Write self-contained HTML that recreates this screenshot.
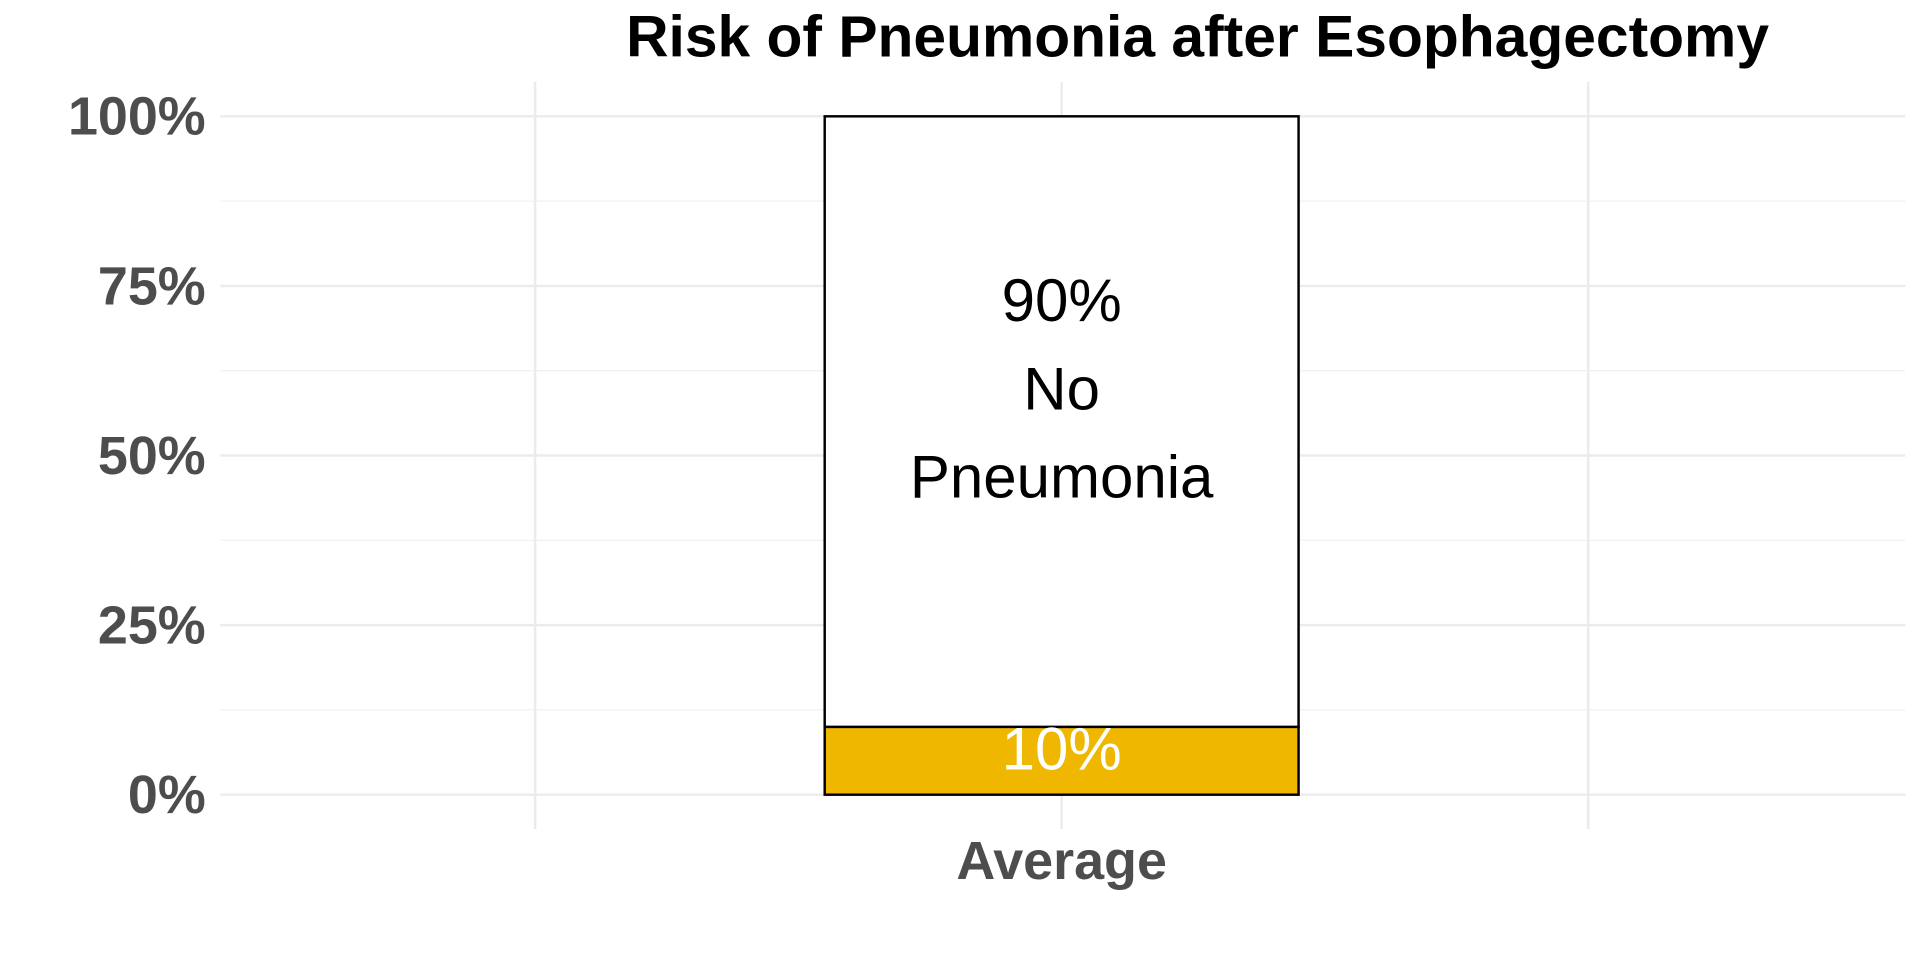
<!DOCTYPE html>
<html><head><meta charset="utf-8"><style>
html,body{margin:0;padding:0;background:#fff;}
svg{display:block;font-family:"Liberation Sans",sans-serif;}
</style></head><body>
<svg id="chart" width="1920" height="960" viewBox="0 0 1568 784" xmlns="http://www.w3.org/2000/svg">
<text x="978" y="46" text-anchor="middle" font-size="48" font-weight="bold" fill="#000">Risk of Pneumonia after Esophagectomy</text>
<g id="grid"></g>
<g id="bars"></g>
<g id="labels"></g>
<g id="yticks"></g>
<text x="867" y="718" text-anchor="middle" font-size="44" font-weight="bold" fill="#4d4d4d">Average</text>
</svg>
<script>
const categories = ["Average"];
const noPneumonia = [90];
const pneumonia = [10];
const yTicks = [0, 25, 50, 75, 100];
const yTickLabels = ["0%", "25%", "50%", "75%", "100%"];

const NS = "http://www.w3.org/2000/svg";
const y = v => 649 - (v / 100) * (649 - 95);
const xCenter = i => 867 + i * 430;
const barHalf = 193.5;
function mk(tag, attrs, parent){ const e=document.createElementNS(NS,tag); for(const k in attrs) e.setAttribute(k,attrs[k]); parent.appendChild(e); return e; }
const grid=document.getElementById('grid'), bars=document.getElementById('bars'), labels=document.getElementById('labels'), yt=document.getElementById('yticks');

for (let v=12.5; v<100; v+=25){
  const l=mk('line',{x1:180,x2:1556,y1:y(v),y2:y(v),stroke:'#f0f0f0','stroke-width':1},grid);
  
  
}
[-1,0,1].forEach(k=>{
  const l=mk('line',{x1:xCenter(k),x2:xCenter(k),y1:67,y2:677,stroke:'#ebebeb','stroke-width':2},grid);
  
  
});
yTicks.forEach((v,i)=>{
  const l=mk('line',{x1:180,x2:1556,y1:y(v),y2:y(v),stroke:'#ebebeb','stroke-width':2},grid);
  
  
  const t=mk('text',{x:168,y:y(v)+15,'text-anchor':'end','font-size':44,'font-weight':'bold',fill:'#4d4d4d'},yt);
  t.textContent=yTickLabels[i];
  
  
});
categories.forEach((c,i)=>{
  const cx=xCenter(i);
  const b1=mk('rect',{x:cx-barHalf,y:y(pneumonia[i]),width:barHalf*2,height:y(0)-y(pneumonia[i]),fill:'#efb700',stroke:'#000','stroke-width':2},bars);
  
  
  const top=pneumonia[i]+noPneumonia[i];
  const b2=mk('rect',{x:cx-barHalf,y:y(top),width:barHalf*2,height:y(pneumonia[i])-y(top),fill:'#fff',stroke:'#000','stroke-width':2},bars);
  
  
  const mid=y(pneumonia[i]+noPneumonia[i]/2);
  const lines=[noPneumonia[i]+'%','No','Pneumonia'];
  lines.forEach((s,j)=>{
    const t=mk('text',{x:cx,y:mid-82+j*72,'text-anchor':'middle','font-size':49,fill:'#000'},labels);
    t.textContent=s;
    
    
  });
  const t2=mk('text',{x:cx,y:y(pneumonia[i])+35,'text-anchor':'middle','font-size':49,fill:'#fff'},labels);
  t2.textContent=pneumonia[i]+'%';
  
  
});
</script>
</body></html>
